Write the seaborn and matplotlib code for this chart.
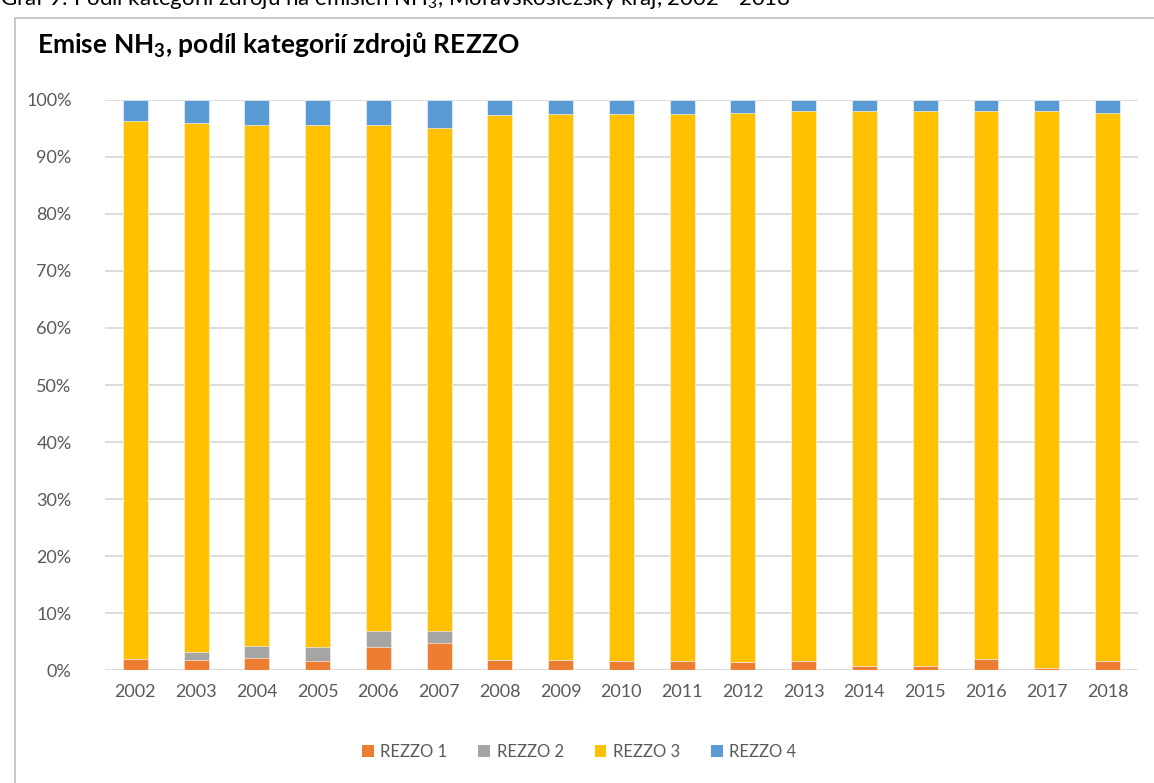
import numpy as np
import pandas as pd
import matplotlib
matplotlib.use("Agg")
import matplotlib.pyplot as plt
from matplotlib.patches import Patch, Rectangle
import seaborn as sns

# data (share of NH3 emissions, %)
years = ['2002', '2003', '2004', '2005', '2006', '2007', '2008', '2009', '2010',
         '2011', '2012', '2013', '2014', '2015', '2016', '2017', '2018']
rezzo1 = [2.0, 1.8, 2.1, 1.6, 4.0, 4.7, 1.8, 1.8, 1.6, 1.6, 1.4, 1.6, 0.7, 0.7, 2.0, 0.3, 1.6]
rezzo2 = [0.0, 1.3, 2.2, 2.4, 2.9, 2.2, 0.0, 0.0, 0.0, 0.0, 0.0, 0.0, 0.0, 0.0, 0.0, 0.0, 0.0]
rezzo4 = [3.7, 4.1, 4.4, 4.4, 4.4, 4.9, 2.6, 2.4, 2.4, 2.4, 2.2, 2.0, 2.0, 2.0, 2.0, 2.0, 2.2]
rezzo3 = [100 - a - b - d for a, b, d in zip(rezzo1, rezzo2, rezzo4)]

labels = ['REZZO 1', 'REZZO 2', 'REZZO 3', 'REZZO 4']
colors = ['#ED7D31', '#A5A5A5', '#FFC000', '#5B9BD5']

df = pd.DataFrame({'rok': years, 'REZZO 1': rezzo1, 'REZZO 2': rezzo2,
                   'REZZO 3': rezzo3, 'REZZO 4': rezzo4})
cum = df[labels].cumsum(axis=1)
cum['rok'] = df['rok']

sns.set_style('white')
plt.rcParams['font.family'] = ['Lato', 'DejaVu Sans']
plt.rcParams['mathtext.fontset'] = 'custom'
plt.rcParams['mathtext.rm'] = 'Lato'
plt.rcParams['mathtext.bf'] = 'Lato:bold'

fig = plt.figure(figsize=(11.54, 7.83), dpi=100)
ax = fig.add_axes([0.091, 0.1443, 0.895, 0.728])

# stacked bars: draw the cumulative totals from the top layer down
for lab, col in reversed(list(zip(labels, colors))):
    sns.barplot(data=cum, x='rok', y=lab, color=col, width=0.41, errorbar=None,
                saturation=1, edgecolor='#FFFFFF', linewidth=0.4, ax=ax, zorder=3)

ax.set_ylim(0, 100)
ax.set_xlim(-0.5, len(years) - 0.5)
ax.set_yticks(np.arange(0, 101, 10))
ax.set_yticklabels([f'{v}%' for v in range(0, 101, 10)])
ax.yaxis.grid(True, color='#D9D9D9', linewidth=1.3, zorder=0)
ax.set_axisbelow(True)
for s in ax.spines.values():
    s.set_visible(False)
ax.set_xlabel('')
ax.set_ylabel('')
ax.tick_params(axis='both', length=0, labelsize=13, colors='#595959', pad=10)
ax.tick_params(axis='y', pad=24)

fig.text(0.032, 0.942, r'Emise NH$_\mathbf{3}$, podíl kategorií zdrojů REZZO',
         fontsize=19, fontweight='bold', color='#000000', va='center')

# caption of the document, cut at the top edge
fig.text(0.0, 1 - 5 / 783, 'Graf 9: Podíl kategorií zdrojů na emisích NH$_3$, Moravskoslezský kraj, 2002 - 2018',
         fontsize=16, color='#000000', va='baseline')

# chart frame
fig.patches.append(Rectangle((15 / 1154, -0.05), 1.2, 1 - 18 / 783 + 0.05,
                             transform=fig.transFigure, fill=False,
                             edgecolor='#BFBFBF', linewidth=1.2))

handles = [Patch(facecolor=c, edgecolor='none') for c in colors]
fig.legend(handles, labels, loc='center', bbox_to_anchor=(0.502, 0.04), ncol=4,
           frameon=False, fontsize=12, handlelength=0.7, handleheight=0.7,
           handletextpad=0.4, columnspacing=1.85, labelcolor='#595959')

fig.savefig('out.png', dpi=100)
